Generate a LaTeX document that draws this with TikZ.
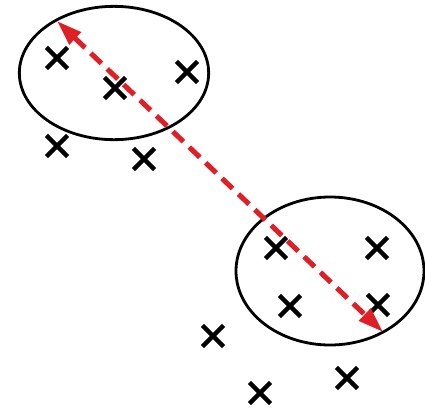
\documentclass[tikz,border=0pt]{standalone}
\usetikzlibrary{shapes.geometric,shapes.misc,arrows.meta}
\definecolor{arrowred}{RGB}{222,32,38}
\tikzset{
  pt/.style={cross out,draw=black,line width=3.4pt,inner sep=0pt,minimum size=12.5pt},
  cluster/.style={ellipse,draw=black,line width=2.1pt,inner sep=0pt},
  distarrow/.style={draw=arrowred,line width=3.8pt,dash pattern=on 11pt off 6pt,
    {Triangle[length=19pt,width=12pt,fill=arrowred]}-{Triangle[length=19pt,width=12pt,fill=arrowred]}}
}
\begin{document}
\begin{tikzpicture}[x=0.75pt,y=-0.75pt]
\useasboundingbox (0,0) rectangle (425,408);
\node[cluster,minimum width=142pt,minimum height=100pt] (c1) at (114,73) {};
\node[cluster,minimum width=141pt,minimum height=111pt] (c2) at (330,271) {};
\node[pt] (a1) at (57,58) {};
\node[pt] (a2) at (115,88) {};
\node[pt] (a3) at (187,72) {};
\node[pt] (a4) at (57,146) {};
\node[pt] (a5) at (144,159) {};
\node[pt] (b1) at (276,248) {};
\node[pt] (b2) at (377,248) {};
\node[pt] (b3) at (290,306) {};
\node[pt] (b4) at (378,305) {};
\node[pt] (b5) at (213,336) {};
\node[pt] (b6) at (347,378) {};
\node[pt] (b7) at (260,393) {};
\coordinate (p) at (57,21);
\coordinate (q) at (383,332);
\draw[distarrow] (p) -- (q);
\end{tikzpicture}
\end{document}
